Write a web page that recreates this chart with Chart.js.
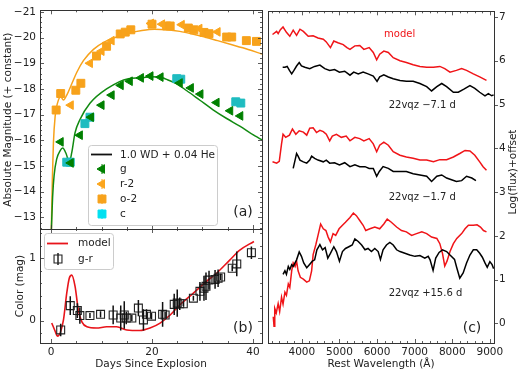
<!DOCTYPE html>
<html>
<head>
<meta charset="utf-8">
<script src="https://cdn.jsdelivr.net/npm/chart.js@4.4.0/dist/chart.umd.min.js"></script>
<style>
html, body { margin: 0; padding: 0; background: #fff; }
#wrap { position: relative; width: 520px; height: 374px; }
canvas { position: absolute; left: 0; top: 0; }
</style>
</head>
<body>
<div id="wrap">
  <canvas id="lcChart" width="520" height="374"></canvas>
  <canvas id="colorChart" width="520" height="374"></canvas>
  <canvas id="specChart" width="520" height="374"></canvas>
</div>
<script>
Chart.defaults.font.family = "'DejaVu Sans', sans-serif"
Chart.defaults.font.size = 10.5
Chart.defaults.color = "#222"

// ---- panel (a): light curves ----
var dayTicks = [0, 20, 40]
var magTicks = [-21, -20, -19, -18, -17, -16, -15, -14, -13]

var modelGDays = [0.05, 0.3, 0.6, 1.1, 1.8, 2.3, 3.0, 3.6, 4.1, 4.75, 5.7, 7.7, 11, 15.3, 17.6, 19.6, 21.6, 22.8, 24.9, 26.9, 29.5, 32.1, 34.8, 37.4, 40.4, 41.8]
var modelGMag  = [-12.5, -13.8, -14.64, -15.27, -15.6, -15.7, -15.47, -15.15, -15.53, -16.3, -16.8, -17.44, -18.0, -18.4, -18.43, -18.47, -18.46, -18.38, -18.2, -17.93, -17.56, -17.19, -16.85, -16.55, -16.17, -16.02]
var modelRDays = [0.05, 0.25, 0.46, 0.8, 1.25, 1.9, 2.45, 3.1, 4.1, 5.1, 6.4, 8.4, 10.5, 13.0, 15.5, 18, 20.5, 23, 25.5, 28, 30.5, 33, 35.5, 38, 41.8]
var modelRMag  = [-12.5, -14.5, -15.9, -16.93, -17.44, -17.7, -17.57, -17.76, -18.2, -18.65, -19.1, -19.54, -19.82, -20.02, -20.17, -20.27, -20.32, -20.3, -20.24, -20.14, -20.02, -19.88, -19.74, -19.6, -19.36]

var gDays = [1.9, 3.9, 5.7, 7.9, 10.0, 12.0, 13.8, 15.6, 17.8, 19.7, 21.7, 25.5, 27.7, 29.6, 32.8, 35.5, 37.5]
var gMag  = [-15.94, -15.12, -16.2, -16.9, -17.37, -17.76, -18.14, -18.3, -18.43, -18.5, -18.46, -18.23, -18.04, -17.8, -17.47, -17.15, -16.95]
var rDays = [3.9, 7.7, 10.0, 12.0, 19.8, 22.0, 25.9, 29.4, 33.0]
var rMag  = [-17.37, -19.0, -19.47, -19.88, -20.55, -20.52, -20.5, -20.35, -20.22]
var oDays = [1.0, 1.9, 4.9, 5.9, 9.0, 11.0, 13.7, 14.7, 15.8, 20.0, 22.9, 23.6, 27.2, 28.3, 30.3, 31.3, 34.8, 35.8, 38.7, 40.7]
var oMag  = [-17.18, -17.82, -17.95, -18.22, -19.28, -19.66, -20.14, -20.21, -20.3, -20.52, -20.45, -20.45, -20.37, -20.3, -20.2, -20.15, -20.02, -20.02, -19.88, -19.85]
var cDays = [3.1, 3.8, 6.7, 7.7, 24.9, 25.7, 36.6, 37.6]
var cMag  = [-15.15, -15.15, -16.65, -16.9, -18.4, -18.38, -17.5, -17.45]

// ---- panel (b): g-r colour ----
var colorTicks = [0, 1]
var colorModelDays = [0.13, 0.8, 1.25, 1.8, 2.45, 3.1, 3.6, 4.1, 4.75, 5.4, 6.1, 7.1, 9.0, 11.0, 13.0, 15.0, 17.6, 19.6, 21.6, 23.6, 25.5, 28.2, 30.8, 32.8, 35.4, 37.4, 40.2]
var colorModel     = [-0.04, -0.17, -0.25, -0.2, 0.01, 0.44, 0.68, 0.73, 0.55, 0.17, -0.02, -0.1, -0.12, -0.1, -0.1, -0.15, -0.16, -0.12, -0.04, 0.09, 0.25, 0.44, 0.63, 0.76, 0.97, 1.13, 1.27]
var grDays = [1.9, 3.8, 5.2, 5.7, 7.7, 9.8, 12.3, 13.8, 14.5, 14.9, 16.0, 17.3, 18.3, 18.9, 19.9, 22.1, 22.6, 24.4, 25.0, 25.5, 26.2, 28.2, 29.5, 30.3, 30.7, 31.3, 32.5, 33.1, 33.6, 35.9, 36.8, 39.7]
var grColor = [-0.15, 0.24, 0.16, 0.08, 0.08, 0.1, 0.09, 0.04, 0.09, 0.04, 0.04, 0.2, 0.01, 0.1, 0.07, 0.1, 0.09, 0.26, 0.28, 0.27, 0.27, 0.36, 0.47, 0.52, 0.55, 0.65, 0.66, 0.68, 0.7, 0.84, 0.91, 1.09]
var grErr   = [0.1, 0.15, 0.12, 0.13, 0.04, 0.05, 0.15, 0.2, 0.22, 0.1, 0.05, 0.13, 0.17, 0.08, 0.05, 0.2, 0.05, 0.17, 0.22, 0.1, 0.04, 0.04, 0.15, 0.2, 0.22, 0.15, 0.15, 0.14, 0.05, 0.05, 0.2, 0.1]

// ---- panel (c): spectra ----
var waveTicks = [4000, 5000, 6000, 7000, 8000, 9000]
var fluxTicks = [0, 1, 2, 3, 4, 5, 6, 7]

var model1Wave = [3220, 3330, 3370, 3430, 3500, 3590, 3680, 3770, 3860, 3950, 4040, 4170, 4300, 4430, 4570, 4650, 4760, 4850, 4960, 5100, 5200, 5280, 5410, 5540, 5650, 5790, 5900, 5990, 6070, 6180, 6300, 6430, 6610, 6780, 6960, 7140, 7320, 7500, 7670, 7800, 7940, 8110, 8250, 8380, 8560, 8730, 8910]
var model1Flux = [6.60, 6.67, 6.62, 6.71, 6.77, 6.65, 6.56, 6.70, 6.58, 6.72, 6.67, 6.56, 6.57, 6.52, 6.49, 6.43, 6.30, 6.45, 6.41, 6.37, 6.30, 6.26, 6.34, 6.35, 6.26, 6.30, 6.19, 6.02, 6.15, 6.22, 6.19, 6.07, 6.00, 5.96, 5.91, 5.87, 5.85, 5.85, 5.87, 5.82, 5.74, 5.78, 5.82, 5.78, 5.70, 5.63, 5.55]
var obs1Wave = [3490, 3550, 3610, 3670, 3730, 3790, 3860, 3930, 3990, 4080, 4210, 4340, 4480, 4610, 4740, 4870, 5000, 5140, 5280, 5380, 5500, 5630, 5760, 5900, 6000, 6070, 6180, 6300, 6430, 6610, 6780, 6960, 7140, 7320, 7450, 7590, 7720, 7850, 8030, 8160, 8310, 8470, 8600, 8730, 8870, 8960, 9050, 9100]
var obs1Flux = [5.85, 5.85, 5.87, 5.78, 5.70, 5.78, 5.88, 5.96, 5.88, 5.85, 5.82, 5.87, 5.90, 5.82, 5.78, 5.80, 5.74, 5.76, 5.67, 5.74, 5.70, 5.74, 5.70, 5.65, 5.53, 5.63, 5.68, 5.63, 5.59, 5.55, 5.53, 5.53, 5.48, 5.41, 5.31, 5.41, 5.48, 5.41, 5.28, 5.28, 5.35, 5.43, 5.37, 5.28, 5.20, 5.25, 5.20, 5.22]

var model2Wave = [3220, 3330, 3400, 3460, 3500, 3570, 3670, 3750, 3840, 3930, 4040, 4130, 4210, 4300, 4390, 4480, 4570, 4650, 4740, 4810, 4920, 5050, 5180, 5280, 5410, 5540, 5650, 5790, 5900, 5990, 6070, 6180, 6300, 6430, 6610, 6780, 6960, 7140, 7320, 7500, 7670, 7850, 8030, 8200, 8340, 8470, 8600, 8730, 8820, 8910]
var model2Flux = [3.69, 3.66, 3.70, 4.10, 4.32, 4.25, 4.30, 4.44, 4.32, 4.40, 4.37, 4.30, 4.46, 4.47, 4.36, 4.41, 4.38, 4.32, 4.17, 4.28, 4.32, 4.25, 4.28, 4.17, 4.25, 4.22, 4.17, 4.22, 4.10, 3.92, 4.07, 4.14, 4.07, 3.92, 3.84, 3.80, 3.77, 3.73, 3.73, 3.69, 3.74, 3.74, 3.80, 3.88, 3.95, 3.94, 3.84, 3.69, 3.58, 3.50]
var obs2Wave = [3770, 3820, 3860, 3900, 3950, 4040, 4130, 4210, 4260, 4340, 4430, 4570, 4650, 4740, 4870, 5000, 5140, 5280, 5410, 5540, 5680, 5790, 5900, 5990, 6060, 6160, 6300, 6430, 6610, 6780, 6960, 7140, 7320, 7450, 7590, 7720, 7850, 7980, 8110, 8250, 8380, 8520, 8630]
var obs2Flux = [3.54, 3.73, 3.88, 3.82, 3.73, 3.69, 3.66, 3.73, 3.82, 3.77, 3.73, 3.69, 3.73, 3.66, 3.67, 3.62, 3.67, 3.58, 3.62, 3.58, 3.58, 3.54, 3.54, 3.36, 3.47, 3.58, 3.54, 3.47, 3.47, 3.47, 3.42, 3.39, 3.36, 3.24, 3.36, 3.39, 3.32, 3.28, 3.24, 3.26, 3.36, 3.32, 3.26]

var model3Wave = [3240, 3260, 3280, 3320, 3370, 3410, 3460, 3500, 3550, 3590, 3640, 3680, 3730, 3770, 3820, 3860, 3900, 3960, 4040, 4130, 4200, 4260, 4300, 4370, 4430, 4500, 4570, 4640, 4700, 4760, 4830, 4900, 4990, 5080, 5160, 5280, 5370, 5450, 5540, 5630, 5700, 5810, 5940, 6070, 6180, 6270, 6380, 6520, 6650, 6780, 6920, 7050, 7190, 7320, 7450, 7590, 7670, 7740, 7800, 7860, 7940, 8030, 8120, 8250, 8340, 8430, 8560, 8660, 8750, 8830, 8910]
var model3Flux = [0.15, -0.07, 0.34, 0.24, 0.45, 0.27, 0.60, 0.44, 0.71, 0.64, 0.90, 0.82, 1.20, 1.38, 1.30, 1.42, 1.20, 1.05, 1.01, 0.94, 0.97, 1.20, 1.57, 1.79, 2.01, 2.27, 2.16, 2.12, 1.97, 1.86, 2.05, 2.01, 2.16, 2.24, 2.31, 2.42, 2.52, 2.46, 2.35, 2.24, 2.12, 2.16, 2.20, 2.16, 2.27, 2.38, 2.31, 2.20, 2.12, 2.09, 2.01, 2.05, 2.09, 2.05, 1.97, 1.94, 1.82, 1.60, 1.31, 1.42, 1.64, 1.82, 1.94, 2.05, 2.16, 2.24, 2.24, 2.25, 2.20, 2.12, 2.09]
var obs3Wave = [3500, 3550, 3590, 3640, 3680, 3730, 3770, 3860, 3930, 3990, 4050, 4130, 4200, 4280, 4340, 4400, 4480, 4550, 4620, 4690, 4760, 4850, 4920, 5000, 5080, 5160, 5250, 5340, 5410, 5500, 5590, 5680, 5760, 5850, 5940, 6030, 6090, 6160, 6250, 6340, 6430, 6520, 6610, 6740, 6870, 7010, 7140, 7270, 7360, 7410, 7490, 7560, 7650, 7740, 7850, 7940, 8060, 8120, 8200, 8290, 8380, 8470, 8560, 8650, 8730, 8800, 8870, 8930, 9000, 9060, 9100]
var obs3Flux = [1.12, 1.20, 1.12, 1.30, 1.23, 1.34, 1.30, 1.45, 1.63, 1.53, 1.38, 1.27, 1.34, 1.42, 1.45, 1.68, 1.80, 1.68, 1.73, 1.49, 1.60, 1.75, 1.64, 1.42, 1.64, 1.71, 1.75, 1.79, 1.93, 1.87, 1.79, 1.68, 1.71, 1.64, 1.71, 1.64, 1.46, 1.68, 1.79, 1.85, 1.79, 1.68, 1.64, 1.60, 1.56, 1.53, 1.55, 1.49, 1.53, 1.45, 1.21, 1.49, 1.62, 1.68, 1.64, 1.56, 1.46, 1.27, 1.03, 1.15, 1.38, 1.56, 1.68, 1.68, 1.60, 1.51, 1.38, 1.28, 1.41, 1.34, 1.25]

// ---- helpers ----
function pts(xs, ys){
    return xs.map((x, i) => ({x: x, y: ys[i]}))
}

function minus(v){
    return String(v).replace("-", "\u2212")
}

function setTicks(list){
    return scale => { scale.ticks = list.map(v => ({value: v})) }
}

//inward tick marks, majors from the tick list, minors every step
function drawTicks(chart, scaleId, majors, step, sides, outward){
    const scale = chart.scales[scaleId]
    const a = chart.chartArea
    const ctx = chart.ctx
    const marks = majors.map(v => [v, 4])
    if (step){
        const lo = Math.min(scale.min, scale.max), hi = Math.max(scale.min, scale.max)
        for (let k = Math.ceil(lo / step); k * step <= hi; k++){
            const v = k * step
            if (!majors.some(m => Math.abs(m - v) < step / 10)) marks.push([v, 2])
        }
    }
    const d = outward ? -1 : 1
    ctx.save()
    ctx.strokeStyle = "#333"
    ctx.lineWidth = 0.8
    ctx.beginPath()
    marks.forEach(([v, len]) => {
        const p = Math.round(scale.getPixelForValue(v)) + 0.5
        sides.forEach(side => {
            if (side === "bottom" && p >= a.left && p <= a.right){ ctx.moveTo(p, a.bottom); ctx.lineTo(p, a.bottom - d * len) }
            if (side === "top" && p >= a.left && p <= a.right){ ctx.moveTo(p, a.top); ctx.lineTo(p, a.top + d * len) }
            if (side === "left" && p >= a.top && p <= a.bottom){ ctx.moveTo(a.left, p); ctx.lineTo(a.left + d * len, p) }
            if (side === "right" && p >= a.top && p <= a.bottom){ ctx.moveTo(a.right, p); ctx.lineTo(a.right - d * len, p) }
        })
    })
    ctx.stroke()
    ctx.restore()
}

function drawFrame(chart){
    const a = chart.chartArea
    const ctx = chart.ctx
    ctx.save()
    ctx.strokeStyle = "#333"
    ctx.lineWidth = 1
    ctx.strokeRect(Math.round(a.left) + 0.5, Math.round(a.top) + 0.5, Math.round(a.right - a.left), Math.round(a.bottom - a.top))
    ctx.restore()
}

function text(ctx, s, x, y, size, color, align){
    ctx.save()
    ctx.font = size + "px 'DejaVu Sans', sans-serif"
    ctx.fillStyle = color || "#222"
    ctx.textAlign = align || "left"
    ctx.textBaseline = "middle"
    ctx.fillText(s, x, y)
    ctx.restore()
}

function legendBox(ctx, x, y, w, h){
    ctx.save()
    ctx.fillStyle = "rgba(255,255,255,0.8)"
    ctx.strokeStyle = "#cccccc"
    ctx.lineWidth = 1
    ctx.beginPath()
    ctx.roundRect(x + 0.5, y + 0.5, w, h, 3)
    ctx.fill()
    ctx.stroke()
    ctx.restore()
}

function marker(ctx, style, rot, r, x, y, fill, edge){
    ctx.save()
    ctx.fillStyle = fill
    ctx.strokeStyle = edge
    ctx.lineWidth = 1
    Chart.helpers.drawPoint(ctx, {pointStyle: style, rotation: rot, radius: r, borderWidth: 1}, x, y)
    ctx.beginPath()
    ctx.moveTo(x, y - 5); ctx.lineTo(x, y + 5)
    ctx.stroke()
    ctx.restore()
}

function baseOptions(pad){
    return {
        responsive: false,
        animation: false,
        events: [],
        layout: {padding: pad},
        plugins: {legend: {display: false}, tooltip: {enabled: false}}
    }
}

const noGrid = {display: false, drawTicks: false}

// ---- chart (a) ----
const lcOpts = baseOptions({left: 0, top: 5, right: 258, bottom: 145})
lcOpts.scales = {
    x: {type: "linear", min: -2.2, max: 41.8, grid: noGrid, border: {display: false},
        ticks: {display: false}, afterBuildTicks: setTicks(dayTicks), afterFit: s => { s.height = 0 }},
    y: {type: "linear", reverse: true, min: -21.06, max: -12.55, grid: noGrid, border: {display: false},
        ticks: {padding: 4, callback: v => minus(v)}, afterBuildTicks: setTicks(magTicks),
        title: {display: true, text: "Absolute Magnitude (+ constant)", padding: {top: 2, bottom: 0}},
        afterFit: s => { s.width = 40 }}
}

new Chart(document.getElementById("lcChart"), {
    type: "scatter",
    data: {
        datasets: [
            {data: pts(gDays, gMag), pointStyle: "triangle", rotation: -90, pointRadius: 5,
             backgroundColor: "#008000", borderColor: "#008000", order: 1},
            {data: pts(cDays, cMag), pointStyle: "rect", pointRadius: 5.6,
             backgroundColor: "#1fbcc0", borderColor: "#1fbcc0", order: 2},
            {data: pts(rDays, rMag), pointStyle: "triangle", rotation: -90, pointRadius: 5,
             backgroundColor: "#fba51c", borderColor: "#fba51c", order: 3},
            {data: pts(oDays, oMag), pointStyle: "rect", pointRadius: 5.6,
             backgroundColor: "#f7a21b", borderColor: "#f7a21b", order: 4},
            {data: pts(modelGDays, modelGMag), showLine: true, pointRadius: 0, borderColor: "#118a11",
             borderWidth: 1.5, cubicInterpolationMode: "monotone", order: 5},
            {data: pts(modelRDays, modelRMag), showLine: true, pointRadius: 0, borderColor: "#f7a21b",
             borderWidth: 1.5, cubicInterpolationMode: "monotone", order: 6}
        ]
    },
    options: lcOpts,
    plugins: [{
        id: "lcDecor",
        afterDraw(chart){
            const ctx = chart.ctx
            drawFrame(chart)
            drawTicks(chart, "x", dayTicks, 5, ["bottom", "top"])
            drawTicks(chart, "y", magTicks, 0.2, ["left", "right"])
            //legend
            legendBox(ctx, 88, 145, 129, 80)
            ctx.save()
            ctx.strokeStyle = "#111"
            ctx.lineWidth = 1.8
            ctx.beginPath(); ctx.moveTo(91, 154.5); ctx.lineTo(112, 154.5); ctx.stroke()
            ctx.restore()
            marker(ctx, "triangle", -90, 5, 102, 169, "#008000", "#008000")
            marker(ctx, "triangle", -90, 5, 102, 184, "#fba51c", "#fba51c")
            marker(ctx, "rect", 0, 5.6, 102, 199, "#f7a21b", "#f7a21b")
            marker(ctx, "rect", 0, 5.6, 102, 214, "#00e0f0", "#00e0f0")
            text(ctx, "1.0 WD + 0.04 He", 120, 155, 10.5)
            text(ctx, "g", 120, 169, 10.5)
            text(ctx, "r-2", 120, 184, 10.5)
            text(ctx, "o-2", 120, 199, 10.5)
            text(ctx, "c", 120, 214, 10.5)
            text(ctx, "(a)", 243, 212, 14, "#222", "center")
        }
    }]
})

// ---- chart (b) ----
const colorOpts = baseOptions({left: 0, top: 229, right: 258, bottom: 3})
colorOpts.scales = {
    x: {type: "linear", min: -2.2, max: 41.8, grid: noGrid, border: {display: false},
        ticks: {padding: 3, callback: v => minus(v)}, afterBuildTicks: setTicks(dayTicks),
        title: {display: true, text: "Days Since Explosion", padding: {top: 0, bottom: 0}},
        afterFit: s => { s.height = 28 }},
    y: {type: "linear", min: -0.36, max: 1.47, grid: noGrid, border: {display: false},
        ticks: {padding: 4, callback: v => minus(v)}, afterBuildTicks: setTicks(colorTicks),
        title: {display: true, text: "Color (mag)", padding: {top: 14, bottom: 0}},
        afterFit: s => { s.width = 40 }}
}

new Chart(document.getElementById("colorChart"), {
    type: "scatter",
    data: {
        datasets: [
            {data: pts(grDays, grColor), pointStyle: "rect", pointRadius: 5.6, borderWidth: 1.1,
             backgroundColor: "rgba(0,0,0,0)", borderColor: "#222", order: 1},
            {data: pts(colorModelDays, colorModel), showLine: true, pointRadius: 0, borderColor: "#e8141a",
             borderWidth: 1.6, cubicInterpolationMode: "monotone", order: 2}
        ]
    },
    options: colorOpts,
    plugins: [{
        id: "colorDecor",
        afterDatasetsDraw(chart){
            //vertical error bars on g-r
            const ctx = chart.ctx
            const xs = chart.scales.x, ys = chart.scales.y
            ctx.save()
            ctx.strokeStyle = "#111"
            ctx.lineWidth = 1.5
            ctx.beginPath()
            grDays.forEach((d, i) => {
                const px = xs.getPixelForValue(d)
                ctx.moveTo(px, ys.getPixelForValue(grColor[i] - grErr[i]))
                ctx.lineTo(px, ys.getPixelForValue(grColor[i] + grErr[i]))
            })
            ctx.stroke()
            ctx.restore()
        },
        afterDraw(chart){
            const ctx = chart.ctx
            drawFrame(chart)
            drawTicks(chart, "x", dayTicks, 5, ["bottom", "top"])
            drawTicks(chart, "y", colorTicks, 0.2, ["left", "right"])
            legendBox(ctx, 44, 233, 69, 36)
            ctx.save()
            ctx.strokeStyle = "#e8141a"
            ctx.lineWidth = 1.8
            ctx.beginPath(); ctx.moveTo(47, 243.5); ctx.lineTo(68, 243.5); ctx.stroke()
            ctx.strokeStyle = "#222"
            ctx.fillStyle = "rgba(0,0,0,0)"
            ctx.lineWidth = 1.1
            Chart.helpers.drawPoint(ctx, {pointStyle: "rect", radius: 5.6, borderWidth: 1.1}, 58, 259)
            ctx.lineWidth = 1.5
            ctx.beginPath(); ctx.moveTo(58, 253); ctx.lineTo(58, 265); ctx.stroke()
            ctx.restore()
            text(ctx, "model", 78, 243, 10.5)
            text(ctx, "g-r", 78, 259, 10.5)
            text(ctx, "(b)", 243, 328, 14, "#222", "center")
        }
    }]
})

// ---- chart (c) ----
const specOpts = baseOptions({left: 268, top: 5, right: 0, bottom: 3})
specOpts.scales = {
    x: {type: "linear", min: 3100, max: 9110, grid: noGrid, border: {display: false},
        ticks: {padding: 3, callback: v => String(v)}, afterBuildTicks: setTicks(waveTicks),
        title: {display: true, text: "Rest Wavelength (\u00c5)", padding: {top: 0, bottom: 0}},
        afterFit: s => { s.height = 28 }},
    y: {type: "linear", position: "right", min: -0.45, max: 7.13, grid: noGrid, border: {display: false},
        ticks: {padding: 5, callback: v => String(v)}, afterBuildTicks: setTicks(fluxTicks),
        afterFit: s => { s.width = 26 }}
}

function specSet(w, f, color, order){
    return {data: pts(w, f), showLine: true, pointRadius: 0, borderColor: color, borderWidth: 1.5,
            tension: 0, order: order}
}

new Chart(document.getElementById("specChart"), {
    type: "scatter",
    data: {
        datasets: [
            specSet(obs1Wave, obs1Flux, "#000", 1),
            specSet(obs2Wave, obs2Flux, "#000", 1),
            specSet(obs3Wave, obs3Flux, "#000", 1),
            specSet(model1Wave, model1Flux, "#f01418", 2),
            specSet(model2Wave, model2Flux, "#f01418", 2),
            specSet(model3Wave, model3Flux, "#f01418", 2)
        ]
    },
    options: specOpts,
    plugins: [{
        id: "specDecor",
        afterDraw(chart){
            const ctx = chart.ctx
            const xs = chart.scales.x, ys = chart.scales.y
            drawFrame(chart)
            drawTicks(chart, "x", waveTicks, 200, ["bottom", "top"])
            drawTicks(chart, "y", fluxTicks, 0, ["right"], true)
            text(ctx, "model", xs.getPixelForValue(6600), ys.getPixelForValue(6.6), 10, "#f01418", "center")
            text(ctx, "22vqz \u22127.1 d", xs.getPixelForValue(6310), ys.getPixelForValue(4.97), 10)
            text(ctx, "22vqz \u22121.7 d", xs.getPixelForValue(6310), ys.getPixelForValue(2.87), 10)
            text(ctx, "22vqz +15.6 d", xs.getPixelForValue(6310), ys.getPixelForValue(0.68), 10)
            text(ctx, "(c)", 472, 328, 14, "#222", "center")
            //right-hand axis title, reading upwards
            ctx.save()
            ctx.translate(513, 172)
            ctx.rotate(-Math.PI / 2)
            text(ctx, "Log(flux)+offset", 0, 0, 10.5, "#222", "center")
            ctx.restore()
        }
    }]
})
</script>
</body>
</html>
